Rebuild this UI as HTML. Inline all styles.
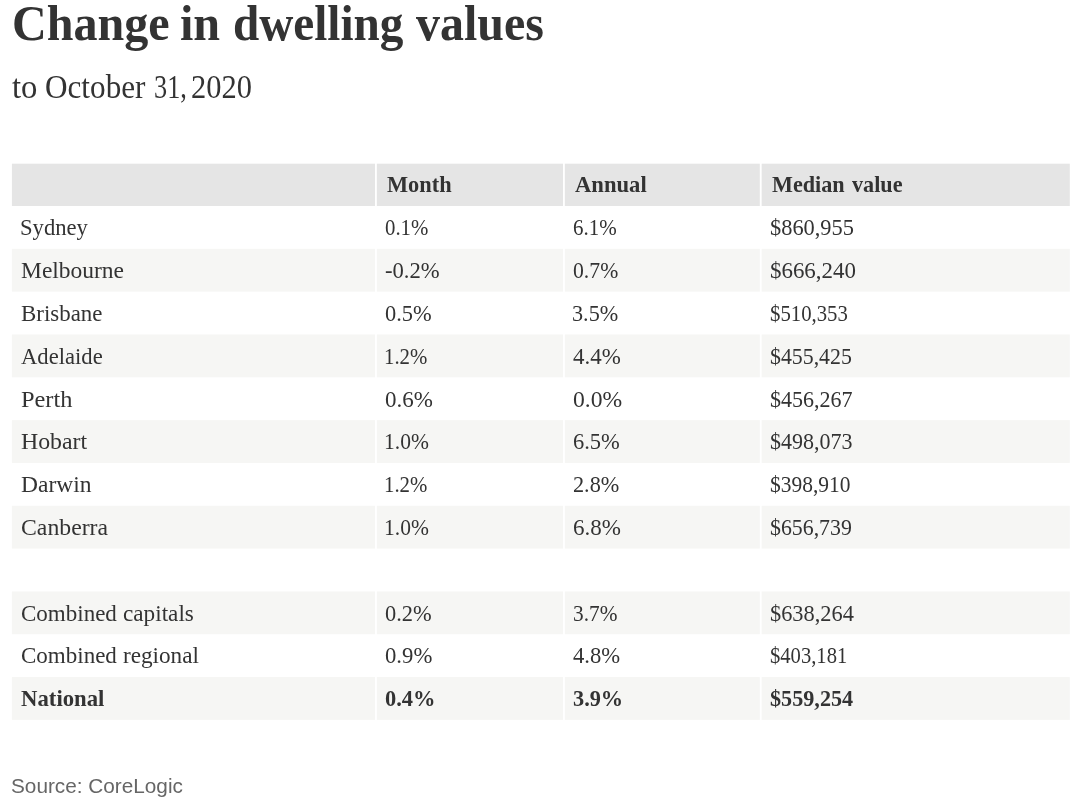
<!DOCTYPE html>
<html lang="en">
<head>
<meta charset="utf-8">
<title>Change in dwelling values</title>
<style>
html,body{margin:0;padding:0;background:#fff;}
body{width:1080px;height:808px;position:relative;overflow:hidden;font-family:"Liberation Serif",serif;color:#333;font-size:22.5px;line-height:30px;}
.bg{position:absolute;left:0;top:0;display:block;}
h1,p,div{margin:0;padding:0;font-weight:inherit;font-size:inherit;}
.t{position:absolute;white-space:nowrap;transform-origin:0 0;line-height:30px;display:block;}
h1{font-size:51.5px;font-weight:bold;}
.sub{font-size:34px;}
.b{font-weight:bold;}
.src{font-family:"Liberation Sans",sans-serif;font-size:20.6px;color:#666;}
</style>
</head>
<body>
<svg class="bg" width="1080" height="808" viewBox="0 0 1080 808">
<rect x="11.90" y="163.70" width="363.10" height="42.30" fill="#e5e5e5"/>
<rect x="376.85" y="163.70" width="186.15" height="42.30" fill="#e5e5e5"/>
<rect x="564.85" y="163.70" width="194.95" height="42.30" fill="#e5e5e5"/>
<rect x="761.65" y="163.70" width="308.15" height="42.30" fill="#e5e5e5"/>
<rect x="11.90" y="248.82" width="363.10" height="42.82" fill="#f6f6f4"/>
<rect x="376.85" y="248.82" width="186.15" height="42.82" fill="#f6f6f4"/>
<rect x="564.85" y="248.82" width="194.95" height="42.82" fill="#f6f6f4"/>
<rect x="761.65" y="248.82" width="308.15" height="42.82" fill="#f6f6f4"/>
<rect x="11.90" y="334.48" width="363.10" height="42.82" fill="#f6f6f4"/>
<rect x="376.85" y="334.48" width="186.15" height="42.82" fill="#f6f6f4"/>
<rect x="564.85" y="334.48" width="194.95" height="42.82" fill="#f6f6f4"/>
<rect x="761.65" y="334.48" width="308.15" height="42.82" fill="#f6f6f4"/>
<rect x="11.90" y="420.12" width="363.10" height="42.82" fill="#f6f6f4"/>
<rect x="376.85" y="420.12" width="186.15" height="42.82" fill="#f6f6f4"/>
<rect x="564.85" y="420.12" width="194.95" height="42.82" fill="#f6f6f4"/>
<rect x="761.65" y="420.12" width="308.15" height="42.82" fill="#f6f6f4"/>
<rect x="11.90" y="505.77" width="363.10" height="42.82" fill="#f6f6f4"/>
<rect x="376.85" y="505.77" width="186.15" height="42.82" fill="#f6f6f4"/>
<rect x="564.85" y="505.77" width="194.95" height="42.82" fill="#f6f6f4"/>
<rect x="761.65" y="505.77" width="308.15" height="42.82" fill="#f6f6f4"/>
<rect x="11.90" y="591.42" width="363.10" height="42.82" fill="#f6f6f4"/>
<rect x="376.85" y="591.42" width="186.15" height="42.82" fill="#f6f6f4"/>
<rect x="564.85" y="591.42" width="194.95" height="42.82" fill="#f6f6f4"/>
<rect x="761.65" y="591.42" width="308.15" height="42.82" fill="#f6f6f4"/>
<rect x="11.90" y="677.07" width="363.10" height="42.82" fill="#f6f6f4"/>
<rect x="376.85" y="677.07" width="186.15" height="42.82" fill="#f6f6f4"/>
<rect x="564.85" y="677.07" width="194.95" height="42.82" fill="#f6f6f4"/>
<rect x="761.65" y="677.07" width="308.15" height="42.82" fill="#f6f6f4"/>
</svg>
<h1><span class="t" style="left:11.64px;top:7.52px;transform:scaleX(0.9337)">Change</span> <span class="t" style="left:179.74px;top:7.52px;transform:scaleX(0.9342)">in</span> <span class="t" style="left:232.75px;top:7.52px;transform:scaleX(0.9161)">dwelling</span> <span class="t" style="left:416.00px;top:7.52px;transform:scaleX(0.9304)">values</span></h1>
<p class="sub"><span class="t" style="left:12.42px;top:71.53px;transform:scaleX(0.9618)">to</span> <span class="t" style="left:44.70px;top:71.53px;transform:scaleX(0.9174)">October</span> <span class="t" style="left:153.71px;top:71.53px;transform:scaleX(0.7727)">31,</span> <span class="t" style="left:190.94px;top:71.53px;transform:scaleX(0.8954)">2020</span></p>
<div class="tbl">
<div class="row b"><span class="t" style="left:387.44px;top:170.31px;transform:scaleX(0.9940)">Month</span> <span class="t" style="left:574.86px;top:170.31px;transform:scaleX(1.0060)">Annual</span> <span class="t" style="left:771.89px;top:170.31px;transform:scaleX(0.9851)">Median</span> <span class="t" style="left:852.36px;top:170.31px;transform:scaleX(0.9865)">value</span></div>
<div class="row"><span class="t" style="left:20.44px;top:213.21px;transform:scaleX(1.0054)">Sydney</span> <span class="t" style="left:384.86px;top:213.21px;transform:scaleX(0.9255)">0.1%</span> <span class="t" style="left:573.07px;top:213.21px;transform:scaleX(0.9329)">6.1%</span> <span class="t" style="left:770.08px;top:213.21px;transform:scaleX(0.9945)">$860,955</span></div>
<div class="row"><span class="t" style="left:20.95px;top:256.03px;transform:scaleX(1.0436)">Melbourne</span> <span class="t" style="left:384.84px;top:256.03px;transform:scaleX(1.0065)">-0.2%</span> <span class="t" style="left:572.81px;top:256.03px;transform:scaleX(0.9653)">0.7%</span> <span class="t" style="left:770.08px;top:256.03px;transform:scaleX(1.0184)">$666,240</span></div>
<div class="row"><span class="t" style="left:21.12px;top:298.86px;transform:scaleX(1.0180)">Brisbane</span> <span class="t" style="left:384.75px;top:298.86px;transform:scaleX(0.9963)">0.5%</span> <span class="t" style="left:571.91px;top:298.86px;transform:scaleX(0.9868)">3.5%</span> <span class="t" style="left:769.71px;top:298.86px;transform:scaleX(0.9228)">$510,353</span></div>
<div class="row"><span class="t" style="left:20.64px;top:341.68px;transform:scaleX(1.0062)">Adelaide</span> <span class="t" style="left:384.37px;top:341.68px;transform:scaleX(0.9252)">1.2%</span> <span class="t" style="left:573.00px;top:341.68px;transform:scaleX(1.0190)">4.4%</span> <span class="t" style="left:770.18px;top:341.68px;transform:scaleX(0.9696)">$455,425</span></div>
<div class="row"><span class="t" style="left:21.12px;top:384.51px;transform:scaleX(1.0828)">Perth</span> <span class="t" style="left:384.50px;top:384.51px;transform:scaleX(1.0228)">0.6%</span> <span class="t" style="left:572.56px;top:384.51px;transform:scaleX(1.0498)">0.0%</span> <span class="t" style="left:770.28px;top:384.51px;transform:scaleX(0.9782)">$456,267</span></div>
<div class="row"><span class="t" style="left:21.14px;top:427.33px;transform:scaleX(1.0591)">Hobart</span> <span class="t" style="left:384.30px;top:427.33px;transform:scaleX(0.9569)">1.0%</span> <span class="t" style="left:573.47px;top:427.33px;transform:scaleX(0.9996)">6.5%</span> <span class="t" style="left:769.87px;top:427.33px;transform:scaleX(0.9768)">$498,073</span></div>
<div class="row"><span class="t" style="left:21.15px;top:470.16px;transform:scaleX(1.0437)">Darwin</span> <span class="t" style="left:384.37px;top:470.16px;transform:scaleX(0.9252)">1.2%</span> <span class="t" style="left:572.80px;top:470.16px;transform:scaleX(0.9882)">2.8%</span> <span class="t" style="left:770.17px;top:470.16px;transform:scaleX(0.9531)">$398,910</span></div>
<div class="row"><span class="t" style="left:21.24px;top:512.98px;transform:scaleX(1.0558)">Canberra</span> <span class="t" style="left:384.30px;top:512.98px;transform:scaleX(0.9569)">1.0%</span> <span class="t" style="left:572.95px;top:512.98px;transform:scaleX(1.0235)">6.8%</span> <span class="t" style="left:770.18px;top:512.98px;transform:scaleX(0.9697)">$656,739</span></div>
<div class="row"></div>
<div class="row"><span class="t" style="left:21.34px;top:598.63px;transform:scaleX(1.0223)">Combined</span> <span class="t" style="left:122.89px;top:598.63px;transform:scaleX(1.0316)">capitals</span> <span class="t" style="left:385.05px;top:598.63px;transform:scaleX(0.9964)">0.2%</span> <span class="t" style="left:572.56px;top:598.63px;transform:scaleX(0.9476)">3.7%</span> <span class="t" style="left:770.49px;top:598.63px;transform:scaleX(0.9937)">$638,264</span></div>
<div class="row"><span class="t" style="left:21.34px;top:641.46px;transform:scaleX(1.0223)">Combined</span> <span class="t" style="left:123.12px;top:641.46px;transform:scaleX(1.0301)">regional</span> <span class="t" style="left:384.73px;top:641.46px;transform:scaleX(1.0101)">0.9%</span> <span class="t" style="left:573.04px;top:641.46px;transform:scaleX(1.0068)">4.8%</span> <span class="t" style="left:769.84px;top:641.46px;transform:scaleX(0.9159)">$403,181</span></div>
<div class="row b"><span class="t" style="left:21.04px;top:684.28px;transform:scaleX(1.0112)">National</span> <span class="t" style="left:385.04px;top:684.28px;transform:scaleX(0.9981)">0.4%</span> <span class="t" style="left:573.37px;top:684.28px;transform:scaleX(0.9911)">3.9%</span> <span class="t" style="left:770.07px;top:684.28px;transform:scaleX(0.9858)">$559,254</span></div>
</div>
<div class="src"><span class="t" style="left:10.62px;top:771.26px;transform:scaleX(1.0077)">Source: CoreLogic</span></div>
</body>
</html>
